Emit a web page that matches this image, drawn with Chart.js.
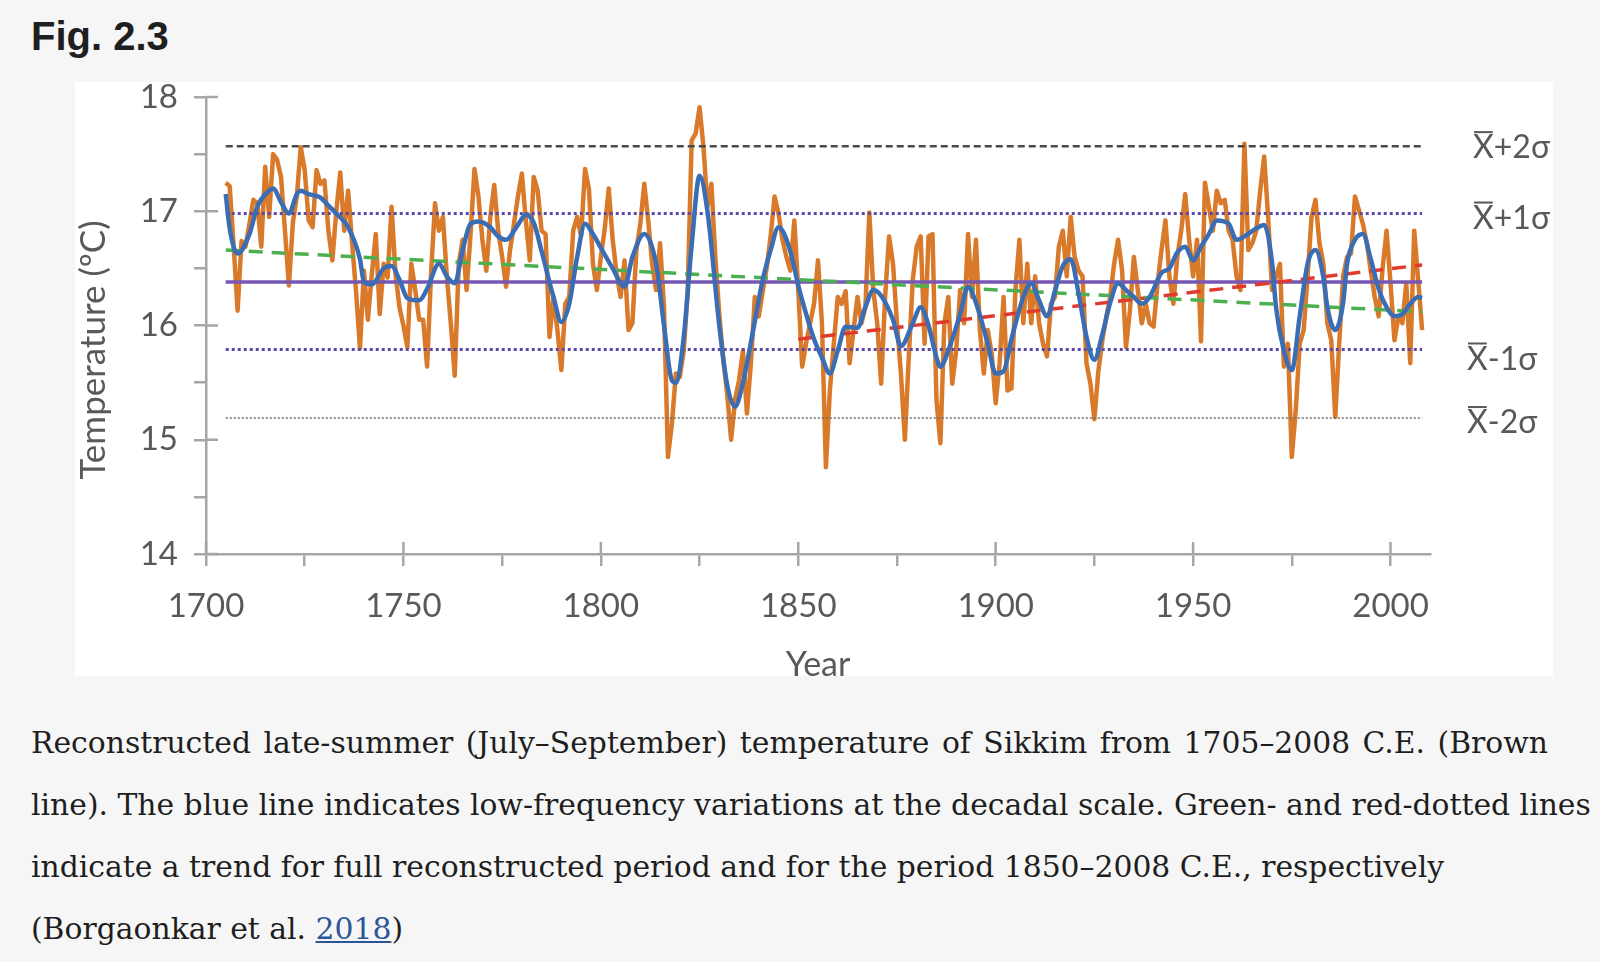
<!DOCTYPE html>
<html lang="en">
<head>
<meta charset="utf-8">
<title>Fig. 2.3</title>
<script src="https://cdn.jsdelivr.net/npm/chart.js@4.4.1/dist/chart.umd.min.js"></script>
<style>
    body {
        margin: 0;
        width: 1600px;
        height: 962px;
        position: relative;
        overflow: hidden;
        background: #f6f6f6;
    }

    #titulo {
        position: absolute;
        left: 31px;
        top: 14px;
        font: bold 40px "Liberation Sans", Arial, sans-serif;
        color: #1f1f1f;
    }

    #caixa {
        position: absolute;
        left: 75px;
        top: 82px;
        width: 1478px;
        height: 594px;
        background: #ffffff;
    }

    #legenda {
        position: absolute;
        left: 31px;
        top: 712px;
        font-family: "DejaVu Serif", serif;
        font-size: 29.8px;
        color: #1e1e1e;
    }

    .linha {
        height: 62px;
        line-height: 62px;
        white-space: nowrap;
    }

    .linha a {
        color: #2a5599;
        text-decoration: underline;
    }
</style>
</head>
<body>
<div id="titulo">Fig. 2.3</div>
<div id="caixa"><canvas id="graficoSikkim" width="1478" height="594"></canvas></div>
<div id="legenda">
    <div class="linha" style="word-spacing: 3px">Reconstructed late-summer (July–September) temperature of Sikkim from 1705–2008 C.E. (Brown</div>
    <div class="linha">line). The blue line indicates low-frequency variations at the decadal scale. Green- and red-dotted lines</div>
    <div class="linha">indicate a trend for full reconstructed period and for the period 1850–2008 C.E., respectively</div>
    <div class="linha">(Borgaonkar et al. <a href="#">2018</a>)</div>
</div>

<script>
// temperatura reconstruida, um valor por ano a partir de 1705 (linha marrom)
var anoInicial = 1705;
var listaTemperaturas = [
    17.25, 17.22, 16.70, 16.13, 16.74, 16.69, 16.89, 17.10, 17.07, 16.69,
    17.39, 16.95, 17.50, 17.45, 17.30, 16.83, 16.35, 16.90, 17.13, 17.56,
    17.36, 16.92, 16.86, 17.36, 17.24, 17.27, 16.83, 16.57, 17.00, 17.34,
    16.83, 17.18, 16.72, 16.30, 15.80, 16.48, 16.05, 16.45, 16.80, 16.10,
    16.54, 16.42, 17.04, 16.45, 16.16, 16.00, 15.81, 16.54, 16.31, 16.05,
    16.05, 15.64, 16.45, 17.07, 16.83, 16.95, 16.43, 16.02, 15.56, 16.54,
    16.75, 16.31, 16.80, 17.37, 17.13, 16.75, 16.48, 16.95, 17.23, 16.83,
    16.60, 16.34, 16.66, 16.89, 17.13, 17.33, 16.92, 16.57, 17.30, 17.18,
    16.83, 16.80, 15.90, 16.25, 15.96, 15.61, 16.19, 16.25, 16.83, 16.95,
    16.78, 17.37, 17.19, 16.54, 16.31, 16.60, 16.85, 17.20, 16.75, 16.45,
    16.25, 16.57, 15.96, 16.02, 16.66, 16.89, 17.24, 16.92, 16.54, 16.31,
    16.72, 16.16, 14.85, 15.14, 15.58, 15.55, 15.78, 16.30, 17.62, 17.68,
    17.91, 17.56, 17.04, 17.24, 16.60, 16.10, 15.70, 15.40, 15.00, 15.35,
    15.52, 15.78, 15.23, 15.67, 16.25, 16.08, 16.30, 16.50, 16.78, 17.13,
    16.98, 16.75, 16.60, 16.48, 16.92, 16.31, 15.64, 15.85, 16.02, 16.19,
    16.57, 16.02, 14.76, 15.43, 15.84, 16.25, 16.19, 16.30, 15.67, 15.96,
    16.25, 16.02, 16.16, 16.99, 16.31, 16.02, 15.49, 16.25, 16.78, 16.54,
    16.02, 15.58, 15.00, 15.73, 16.40, 16.69, 16.78, 15.84, 16.78, 16.80,
    15.35, 14.97, 16.02, 16.25, 15.49, 15.78, 16.31, 16.02, 16.80, 16.25,
    16.75, 15.96, 15.58, 15.96, 15.75, 15.32, 15.67, 16.25, 15.43, 15.45,
    16.31, 16.75, 16.02, 16.54, 16.02, 16.43, 16.02, 15.84, 15.73, 16.19,
    16.25, 16.69, 16.83, 16.43, 16.95, 16.60, 16.48, 16.43, 15.67, 15.49,
    15.18, 15.60, 15.87, 16.07, 16.25, 16.54, 16.75, 16.49, 15.81, 16.13,
    16.60, 16.31, 16.02, 16.19, 16.02, 15.99, 16.37, 16.66, 16.92, 16.43,
    16.19, 16.60, 16.83, 17.15, 16.75, 16.43, 16.75, 15.86, 17.25, 17.04,
    16.83, 17.18, 17.07, 17.10, 16.83, 16.75, 16.43, 16.31, 17.59, 16.66,
    16.72, 16.83, 17.18, 17.48, 16.95, 16.31, 16.43, 16.54, 15.64, 15.84,
    14.85, 15.26, 15.84, 15.96, 16.43, 16.95, 17.10, 16.72, 16.54, 16.02,
    15.87, 15.20, 15.84, 16.43, 16.60, 16.63, 17.13, 17.01, 16.89, 16.72,
    16.48, 16.25, 16.08, 16.50, 16.83, 16.37, 15.87, 16.08, 16.02, 16.37,
    15.67, 16.83, 16.40, 15.96
];

// variacao decadal (linha azul)
var listaAnosSuave = [
    1705, 1706, 1708, 1711, 1713, 1716, 1717, 1719, 1721, 1723, 1724, 1726, 1729, 1731, 1733, 1736, 1739, 1740, 1742, 1745,
    1747, 1749, 1751, 1754, 1756, 1759, 1761, 1763, 1765, 1767, 1769, 1772, 1774, 1776, 1779, 1781, 1783, 1785, 1788, 1790,
    1792, 1794, 1796, 1798, 1800, 1803, 1806, 1808, 1811, 1814, 1816, 1818, 1819, 1821, 1823, 1825, 1827, 1830, 1832, 1834,
    1836, 1838, 1841, 1843, 1845, 1848, 1850, 1852, 1854, 1856, 1858, 1860, 1862, 1865, 1867, 1869, 1871, 1874, 1876, 1879,
    1881, 1883, 1885, 1886, 1888, 1891, 1893, 1895, 1898, 1900, 1902, 1904, 1907, 1909, 1911, 1913, 1915, 1917, 1919, 1921,
    1923, 1925, 1927, 1929, 1931, 1933, 1935, 1937, 1939, 1942, 1944, 1946, 1948, 1950, 1952, 1954, 1956, 1959, 1961, 1963,
    1966, 1968, 1970, 1971, 1973, 1975, 1977, 1979, 1981, 1983, 1984, 1986, 1988, 1989, 1991, 1993, 1995, 1997, 1999, 2001,
    2003, 2005, 2007, 2008
];
var listaTemperaturasSuave = [
    17.15, 16.85, 16.63, 16.80, 17.04, 17.18, 17.20, 17.08, 16.98, 17.15, 17.18, 17.15, 17.12, 17.05, 16.98, 16.86, 16.58, 16.38, 16.36, 16.50,
    16.52, 16.40, 16.24, 16.22, 16.32, 16.54, 16.43, 16.37, 16.66, 16.89, 16.91, 16.86, 16.78, 16.75, 16.88, 16.97, 16.90, 16.65, 16.25, 16.03,
    16.19, 16.60, 16.89, 16.80, 16.68, 16.50, 16.34, 16.60, 16.80, 16.54, 16.00, 15.52, 15.50, 15.90, 16.70, 17.31, 17.00, 16.00, 15.48, 15.29,
    15.50, 15.85, 16.40, 16.66, 16.86, 16.65, 16.35, 16.10, 15.88, 15.72, 15.58, 15.78, 15.99, 15.98, 16.16, 16.31, 16.26, 16.05, 15.82, 16.02,
    16.16, 16.00, 15.72, 15.64, 15.78, 16.10, 16.34, 16.20, 15.84, 15.58, 15.60, 15.88, 16.25, 16.37, 16.22, 16.08, 16.30, 16.52, 16.58, 16.28,
    15.90, 15.70, 15.92, 16.20, 16.37, 16.31, 16.25, 16.19, 16.25, 16.46, 16.50, 16.64, 16.69, 16.57, 16.69, 16.80, 16.92, 16.89, 16.75, 16.78,
    16.85, 16.88, 16.55, 16.16, 15.78, 15.61, 16.08, 16.54, 16.66, 16.42, 16.16, 15.96, 16.20, 16.54, 16.75, 16.80, 16.58, 16.32, 16.16, 16.08,
    16.10, 16.19, 16.25, 16.24
];

// tendencias (verde: periodo todo, vermelha: 1850-2008)
var anosTendenciaVerde = [1705, 2008];
var tendenciaVerde = [16.66, 16.12];
var anosTendenciaVermelha = [1850, 2008];
var tendenciaVermelha = [15.88, 16.53];

// media e desvios
var anosReferencia = [1705, 2008];
var valoresReferencia = [17.57, 16.98, 16.38, 15.79, 15.19];
var rotulosReferencia = ['+2σ', '+1σ', '', '-1σ', '-2σ'];

// eixos
var limitesX = [1700, 2010];
var limitesY = [14, 18];

var corTexto = '#595959';
var corEixo = '#a6a6a6';
var fonteGrafico = 'Lato, "Open Sans", sans-serif';

function pontos(anos, valores) {
    return valores.map(function (v, i) {
        return { x: anos[i], y: v };
    });
}

function pontosAnuais(inicio, valores) {
    return valores.map(function (v, i) {
        return { x: inicio + i, y: v };
    });
}

// estilo de cada linha de referencia e deslocamento vertical do rotulo
var estilosReferencia = [
    { cor: '#4a4a4a', largura: 2.5, traco: [7, 4], desloca: 2 },
    { cor: '#5a4aa6', largura: 3, traco: [3, 3], desloca: 5 },
    { cor: '#7657b3', largura: 3.5, traco: [], desloca: 0 },
    { cor: '#5a4aa6', largura: 3, traco: [3, 3], desloca: 10 },
    { cor: '#6a6a6a', largura: 1.5, traco: [2, 2], desloca: 5 }
];

var datasets = [];

datasets.push({
    label: 'decadal',
    data: pontos(listaAnosSuave, listaTemperaturasSuave),
    borderColor: '#3a6db4',
    borderWidth: 4.5,
    cubicInterpolationMode: 'monotone',
    pointRadius: 0,
    order: 0
});

datasets.push({
    label: 'tendencia total',
    data: pontos(anosTendenciaVerde, tendenciaVerde),
    borderColor: '#4cb050',
    borderWidth: 3.5,
    borderDash: [14, 9],
    pointRadius: 0,
    order: 1
});

datasets.push({
    label: 'tendencia 1850-2008',
    data: pontos(anosTendenciaVermelha, tendenciaVermelha),
    borderColor: '#e0392e',
    borderWidth: 3.5,
    borderDash: [14, 9],
    pointRadius: 0,
    order: 1
});

for (var i = 0; i < valoresReferencia.length; i++) {
    datasets.push({
        label: 'referencia ' + i,
        data: pontos(anosReferencia, [valoresReferencia[i], valoresReferencia[i]]),
        borderColor: estilosReferencia[i].cor,
        borderWidth: estilosReferencia[i].largura,
        borderDash: estilosReferencia[i].traco,
        pointRadius: 0,
        order: 2
    });
}

datasets.push({
    label: 'temperatura',
    data: pontosAnuais(anoInicial, listaTemperaturas),
    borderColor: '#d97a2b',
    borderWidth: 4.5,
    borderJoinStyle: 'round',
    pointRadius: 0,
    order: 3
});

// titulos dos eixos, rotulos da direita e metade interna dos ticks maiores
const pluginTextos = {
    id: 'textos',
    afterDraw(chart) {
        const ctx = chart.ctx;
        const area = chart.chartArea;
        const escalaX = chart.scales.x;
        const escalaY = chart.scales.y;

        ctx.save();
        ctx.strokeStyle = corEixo;
        ctx.lineWidth = 2.5;
        ctx.beginPath();
        for (let ano = limitesX[0]; ano <= 2000; ano += 50) {
            const x = escalaX.getPixelForValue(ano);
            ctx.moveTo(x, area.bottom);
            ctx.lineTo(x, area.bottom - 12);
        }
        for (let t = limitesY[0]; t <= limitesY[1]; t++) {
            const y = escalaY.getPixelForValue(t);
            ctx.moveTo(area.left, y);
            ctx.lineTo(area.left + 12, y);
        }
        ctx.stroke();

        ctx.fillStyle = corTexto;
        ctx.textBaseline = 'middle';
        ctx.textAlign = 'center';
        ctx.font = '34px ' + fonteGrafico;
        ctx.fillText('Year', (area.left + area.right) / 2, 583);

        ctx.save();
        ctx.translate(19, 268);
        ctx.rotate(-Math.PI / 2);
        ctx.font = '35px ' + fonteGrafico;
        ctx.fillText('Temperature (ºC)', 0, 0);
        ctx.restore();

        // X com barra em cima
        ctx.font = '32px ' + fonteGrafico;
        ctx.textAlign = 'left';
        for (let i = 0; i < valoresReferencia.length; i++) {
            if (!rotulosReferencia[i]) continue;
            const y = escalaY.getPixelForValue(valoresReferencia[i]) + estilosReferencia[i].desloca;
            const x = rotulosReferencia[i][0] === '+' ? 1398 : 1392;
            const larguraX = ctx.measureText('X').width;
            ctx.fillText('X', x, y);
            ctx.fillText(rotulosReferencia[i], x + larguraX, y);
            ctx.fillRect(x + 1, y - 17, larguraX - 2, 2);
        }
        ctx.restore();
    }
};

let graficoSikkim;

function plotarGrafico() {
    if (graficoSikkim) {
        graficoSikkim.destroy();
    }

    const ctx = document.getElementById('graficoSikkim');

    const config = {
        type: 'line',
        data: { datasets: datasets },
        options: {
            responsive: false,
            animation: false,
            layout: {
                padding: { left: 0, right: 123, top: 15, bottom: 0 }
            },
            plugins: {
                legend: { display: false },
                tooltip: { enabled: false }
            },
            elements: {
                line: { tension: 0 }
            },
            scales: {
                x: {
                    type: 'linear',
                    min: limitesX[0],
                    max: limitesX[1],
                    grid: { drawOnChartArea: false, color: corEixo, lineWidth: 2.5, tickLength: 12 },
                    border: { color: corEixo, width: 2.5 },
                    ticks: {
                        stepSize: 25,
                        includeBounds: false,
                        maxRotation: 0,
                        autoSkip: false,
                        padding: 21,
                        color: corTexto,
                        font: { family: fonteGrafico, size: 33 },
                        callback: function (valor) {
                            return valor % 50 === 0 ? String(valor) : '';
                        }
                    },
                    afterFit: function (escala) {
                        escala.height = 122;
                        escala.paddingLeft = 0;
                        escala.paddingRight = 0;
                    }
                },
                y: {
                    min: limitesY[0],
                    max: limitesY[1],
                    grid: { drawOnChartArea: false, color: corEixo, lineWidth: 2.5, tickLength: 12 },
                    border: { color: corEixo, width: 2.5 },
                    ticks: {
                        stepSize: 0.5,
                        autoSkip: false,
                        padding: 16,
                        color: corTexto,
                        font: { family: fonteGrafico, size: 33 },
                        callback: function (valor) {
                            return Number.isInteger(valor) ? String(valor) : '';
                        }
                    },
                    afterFit: function (escala) {
                        escala.width = 131;
                        escala.paddingTop = 0;
                        escala.paddingBottom = 0;
                    }
                }
            }
        },
        plugins: [pluginTextos]
    };

    graficoSikkim = new Chart(ctx, config);
}

plotarGrafico();
</script>
</body>
</html>
